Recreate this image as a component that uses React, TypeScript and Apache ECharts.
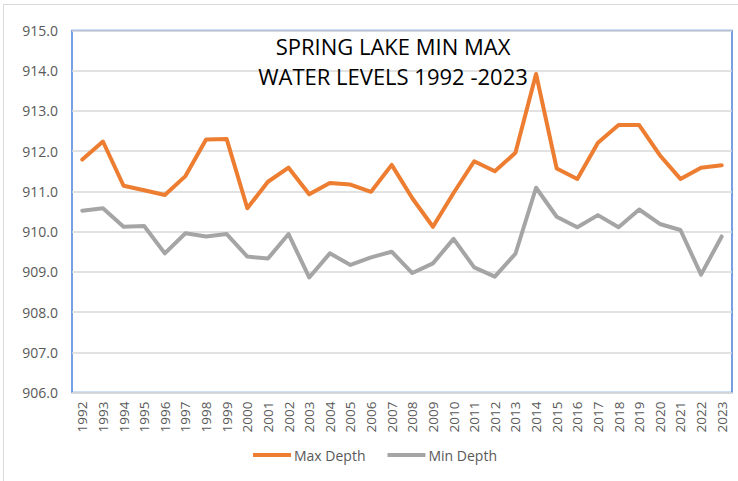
import React, { useEffect, useRef } from "react";
import * as echarts from "echarts";

const years = [
  "1992","1993","1994","1995","1996","1997","1998","1999","2000","2001","2002","2003","2004","2005","2006","2007",
  "2008","2009","2010","2011","2012","2013","2014","2015","2016","2017","2018","2019","2020","2021","2022","2023",
];
const maxDepth = [
  911.79, 912.24, 911.14, 911.03, 910.91, 911.38, 912.29, 912.3, 910.58, 911.24, 911.59, 910.93, 911.21, 911.17, 910.99, 911.66,
  910.83, 910.12, 910.96, 911.75, 911.5, 911.96, 913.92, 911.57, 911.31, 912.21, 912.65, 912.65, 911.9, 911.31, 911.59, 911.65,
];
const minDepth = [
  910.52, 910.58, 910.12, 910.14, 909.46, 909.96, 909.88, 909.94, 909.38, 909.33, 909.94, 908.86, 909.46, 909.17, 909.36, 909.5,
  908.97, 909.21, 909.82, 909.11, 908.88, 909.45, 911.09, 910.37, 910.11, 910.41, 910.11, 910.55, 910.19, 910.04, 908.93, 909.88,
];
const titleLines = ["SPRING LAKE MIN MAX", "WATER LEVELS 1992 -2023"];
const seriesNames = ["Max Depth", "Min Depth"];

const FONT = "'Open Sans', sans-serif";

export default function App() {
  const ref = useRef<HTMLDivElement>(null);
  useEffect(() => {
    if (!ref.current) return;
    const chart = echarts.init(ref.current, undefined, { renderer: "svg" });
    chart.setOption({
      animation: false,
      backgroundColor: "#ffffff",
      graphic: [
        {
          type: "rect",
          shape: { x: 3.5, y: 4.5, width: 760, height: 500 },
          style: { fill: "none", stroke: "#d9d9d9", lineWidth: 1 },
          silent: true,
          z: 0,
        },
        {
          type: "text",
          x: 393,
          y: 31,
          style: {
            text: titleLines.join("\n"),
            align: "center",
            verticalAlign: "top",
            fill: "#000000",
            font: `22px ${FONT}`,
            lineHeight: 30,
          },
          z: 10,
        },
      ],
      legend: {
        bottom: 14,
        left: 248,
        itemWidth: 38,
        itemHeight: 4,
        itemGap: 22,
        icon: "rect",
        textStyle: { color: "#595959", fontSize: 14, fontFamily: FONT, padding: [0, 0, 0, -2] },
        data: seriesNames,
      },
      grid: {
        left: 72,
        top: 30.5,
        right: 6,
        bottom: 88.5,
        show: true,
        borderColor: "#4a7fd8",
        borderWidth: 1.5,
        containLabel: false,
      },
      xAxis: {
        type: "category",
        data: years,
        boundaryGap: true,
        axisLine: { lineStyle: { color: "#d9d9d9", width: 1.5 } },
        axisTick: { show: false },
        axisLabel: {
          rotate: 90,
          color: "#595959",
          fontSize: 13.5,
          fontFamily: FONT,
          margin: 9,
          interval: 0,
        },
      },
      yAxis: {
        type: "value",
        min: 906,
        max: 915,
        interval: 1,
        axisLine: { show: false },
        axisTick: { show: false },
        splitLine: { lineStyle: { color: "#d9d9d9", width: 1.5 } },
        axisLabel: {
          color: "#595959",
          fontSize: 14,
          fontFamily: FONT,
          margin: 14,
          formatter: (v: number) => v.toFixed(1),
        },
      },
      series: [
        {
          name: seriesNames[0],
          type: "line",
          data: maxDepth,
          symbol: "none",
          lineStyle: { color: "#ED7D31", width: 4, join: "round", cap: "round" },
          itemStyle: { color: "#ED7D31" },
        },
        {
          name: seriesNames[1],
          type: "line",
          data: minDepth,
          symbol: "none",
          lineStyle: { color: "#A5A5A5", width: 4, join: "round", cap: "round" },
          itemStyle: { color: "#A5A5A5" },
        },
      ],
    });
    return () => chart.dispose();
  }, []);
  return <div ref={ref} style={{ width: 738, height: 481, position: "absolute", left: 0, top: 0 }} />;
}
